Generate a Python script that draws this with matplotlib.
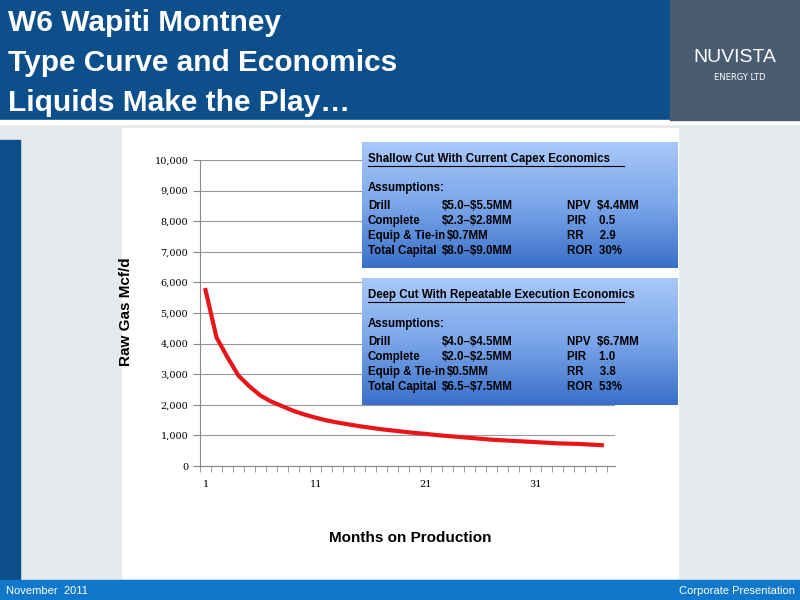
import matplotlib
matplotlib.use("Agg")
import matplotlib.pyplot as plt
import numpy as np
from matplotlib.patches import Rectangle
from matplotlib.colors import LinearSegmentedColormap

months = list(range(1, 38))
rate = [5750, 4200, 3550, 2950, 2600, 2300, 2100, 1950, 1800, 1680, 1580, 1490, 1420,
        1360, 1300, 1250, 1200, 1160, 1120, 1080, 1050, 1010, 980, 950, 920, 890, 860,
        840, 820, 800, 780, 760, 740, 730, 720, 700, 680]
yticks = list(range(0, 10001, 1000))
xticks = [1, 11, 21, 31]

W, H = 800, 600
fig = plt.figure(figsize=(8, 6), dpi=100)
fig.patch.set_facecolor("#e6e9ec")

def fx(px): return px / W
def fy(py): return 1 - py / H

def rect(x0, y0, x1, y1, color):
    fig.patches.append(Rectangle((fx(x0), fy(y1)), fx(x1) - fx(x0), fy(y0) - fy(y1),
                                 transform=fig.transFigure, color=color, zorder=-10))

rect(0, 0, 800, 120, "#0d4f8b")
rect(0, 120, 800, 124, "#ffffff")
rect(670, 0, 800, 120, "#4a5d70")
rect(0, 140, 20, 580, "#0d4f8b")
rect(0, 580, 800, 600, "#1177c9")
rect(122, 128, 678, 578, "#ffffff")

for i, t in enumerate(["W6 Wapiti Montney", "Type Curve and Economics", "Liquids Make the Play…"]):
    fig.text(fx(8), fy(23 + i * 40), t, color="white", fontsize=21.5, fontweight="bold",
             va="center", family="Liberation Sans")
fig.text(fx(735), fy(58), "NUVISTA", color="white", fontsize=14, ha="center", va="center",
         family="Liberation Sans")
fig.text(fx(740), fy(78), "ENERGY LTD", color="white", fontsize=6, ha="center", va="center")
fig.text(fx(6), fy(591), "November  2011", color="white", fontsize=8, va="center",
         family="Liberation Sans")
fig.text(fx(795), fy(591), "Corporate Presentation", color="white", fontsize=8, ha="right",
         va="center", family="Liberation Sans")

ax = fig.add_axes([fx(200), fy(466), fx(615) - fx(200), fy(160) - fy(466)])
ax.patch.set_alpha(0)
ax.plot(months, rate, color="#e8161b", lw=3)
ax.set_xlim(0.5, 38.2)
ax.set_ylim(0, 10000)
ax.set_yticks(yticks)
ax.set_yticklabels([f"{v:,}" for v in yticks], family="DejaVu Serif", fontsize=7)
ax.set_xticks(xticks)
ax.set_xticklabels([str(v) for v in xticks], family="DejaVu Serif", fontsize=7)
ax.set_xticks(np.arange(0.5, 38.5, 1), minor=True)
ax.tick_params(axis="x", which="major", length=0, pad=10)
ax.tick_params(axis="x", which="minor", length=4, color="#888888")
ax.tick_params(axis="y", length=5, color="#888888")
ax.grid(axis="y", color="#999999", lw=0.8)
ax.set_axisbelow(True)
for s in ["top", "right"]:
    ax.spines[s].set_visible(False)
ax.spines["left"].set_color("#888888")
ax.spines["bottom"].set_color("#888888")
fig.text(fx(126), fy(312), "Raw Gas Mcf/d", rotation=90, fontsize=11, fontweight="bold",
         ha="center", va="center", family="Liberation Sans")
fig.text(fx(410), fy(538), "Months on Production", fontsize=11, fontweight="bold",
         ha="center", va="center", family="Liberation Sans")

grad = np.linspace(0, 1, 100).reshape(-1, 1)
cmap = LinearSegmentedColormap.from_list("b", ["#a8c8f8", "#7aa6ea", "#3a70c8"])

boxes = [
    (142, 268, "Shallow Cut With Current Capex Economics",
     [("Drill", "$5.0–$5.5MM", "NPV  $4.4MM"), ("Complete", "$2.3–$2.8MM", "PIR    0.5"),
      ("Equip & Tie-in", "$0.7MM", "RR     2.9"), ("Total Capital", "$8.0–$9.0MM", "ROR  30%")]),
    (278, 405, "Deep Cut With Repeatable Execution Economics",
     [("Drill", "$4.0–$4.5MM", "NPV  $6.7MM"), ("Complete", "$2.0–$2.5MM", "PIR    1.0"),
      ("Equip & Tie-in", "$0.5MM", "RR     3.8"), ("Total Capital", "$6.5–$7.5MM", "ROR  53%")]),
]
for y0, y1, head, rows in boxes:
    bx = fig.add_axes([fx(362), fy(y1), fx(678) - fx(362), fy(y0) - fy(y1)])
    bx.imshow(grad, aspect="auto", cmap=cmap, extent=[0, 1, 0, 1], origin="upper")
    bx.set_axis_off()
    kw = dict(fontsize=8.3, fontweight="bold", va="center", family="Liberation Sans",
              parse_math=False, zorder=5)
    fig.text(fx(368), fy(y0 + 17), head, **kw)
    fig.lines.append(plt.Line2D([fx(368), fx(624)], [fy(y0 + 24), fy(y0 + 24)],
                                transform=fig.transFigure, color="black", lw=0.8, zorder=5))
    fig.text(fx(368), fy(y0 + 46), "Assumptions:", **kw)
    for i, (a, b, c) in enumerate(rows):
        yy = fy(y0 + 64 + i * 15)
        fig.text(fx(368), yy, a, **kw)
        fig.text(fx(447 if a.startswith("Equip") else 442), yy, b, **kw)
        fig.text(fx(567), yy, c, **kw)

fig.savefig("out.png", dpi=100, facecolor=fig.get_facecolor())
